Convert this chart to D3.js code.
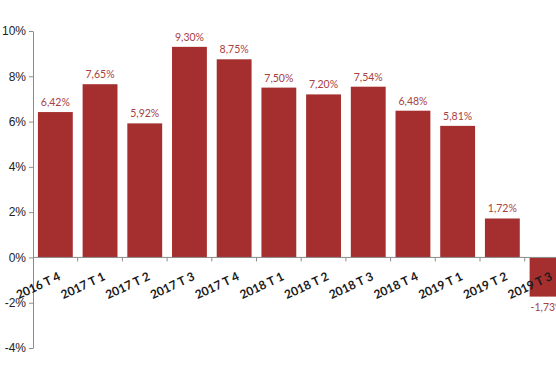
<!DOCTYPE html>
<meta charset="utf-8">
<head>
<style>
body { margin: 0; background: #fff; }
svg { display: block; font-family: Lato, "Open Sans", sans-serif; }
.bars rect { fill: #a52f2f; }
.vlab { fill: #a8413f; font-size: 10.5px; text-anchor: middle; }
.axis path, .axis line { stroke: #8c8c8c; fill: none; }
</style>
</head>
<body>
<svg></svg>
<script src="https://d3js.org/d3.v7.min.js"></script>
<script>
var quarters = ["2016 T 4", "2017 T 1", "2017 T 2", "2017 T 3", "2017 T 4", "2018 T 1",
  "2018 T 2", "2018 T 3", "2018 T 4", "2019 T 1", "2019 T 2", "2019 T 3"];
var growth = [6.42, 7.65, 5.92, 9.30, 8.75, 7.50, 7.20, 7.54, 6.48, 5.81, 1.72, -1.73];
var yTicks = [-4, -2, 0, 2, 4, 6, 8, 10];

var width = 556, height = 369;
var svg = d3.select('svg').attr('width', width).attr('height', height);

var x0 = 33, step = 44.7;
var x = d3.scaleBand().domain(quarters)
  .range([x0, x0 + step * quarters.length])
  .paddingInner(0.22).paddingOuter(0.11);
var y = d3.scaleLinear().domain([-4, 10]).range([348, 31]);

var fmt = function (v) { return v.toFixed(2).replace('.', ',') + '%'; };

// bars
svg.append('g').attr('class', 'bars')
  .selectAll('rect').data(growth).enter().append('rect')
  .attr('x', function (d, i) { return x(quarters[i]); })
  .attr('width', x.bandwidth())
  .attr('y', function (d) { return y(Math.max(0, d)); })
  .attr('height', function (d) { return Math.abs(y(d) - y(0)); });

// value labels
svg.append('g').selectAll('text').data(growth).enter().append('text')
  .attr('class', 'vlab')
  .attr('x', function (d, i) { return x(quarters[i]) + x.bandwidth() / 2; })
  .attr('y', function (d) { return d >= 0 ? y(d) - 6 : y(d) + 14; })
  .text(fmt);

// y axis
var yAxis = svg.append('g').attr('class', 'axis')
  .attr('transform', 'translate(' + x0 + ',0)')
  .call(d3.axisLeft(y).tickValues(yTicks).tickSize(4).tickSizeOuter(0)
    .tickFormat(function (d) { return d + '%'; }));
yAxis.selectAll('text').attr('fill', '#222').style('font-size', '12px').attr('x', -7);

// x axis at zero
var bounds = d3.range(quarters.length + 1).map(function (i) { return x0 + i * step; });
var xg = svg.append('g').attr('class', 'axis');
xg.append('line').attr('x1', x0).attr('x2', width).attr('y1', y(0)).attr('y2', y(0));
xg.selectAll('line.tk').data(bounds.slice(1)).enter().append('line')
  .attr('class', 'tk')
  .attr('x1', function (d) { return d; }).attr('x2', function (d) { return d; })
  .attr('y1', y(0)).attr('y2', y(0) + 4);

// category labels
svg.append('g').selectAll('text').data(quarters).enter().append('text')
  .attr('transform', function (d) {
    return 'translate(' + (x(d) + x.bandwidth() / 2 + 6) + ',' + (y(0) + 22) + ') rotate(-25)';
  })
  .attr('text-anchor', 'end')
  .attr('fill', '#1a1a1a')
  .style('font-size', '12px')
  .style('font-weight', 'bold')
  .text(function (d) { return d; });
</script>
</body>
</html>
